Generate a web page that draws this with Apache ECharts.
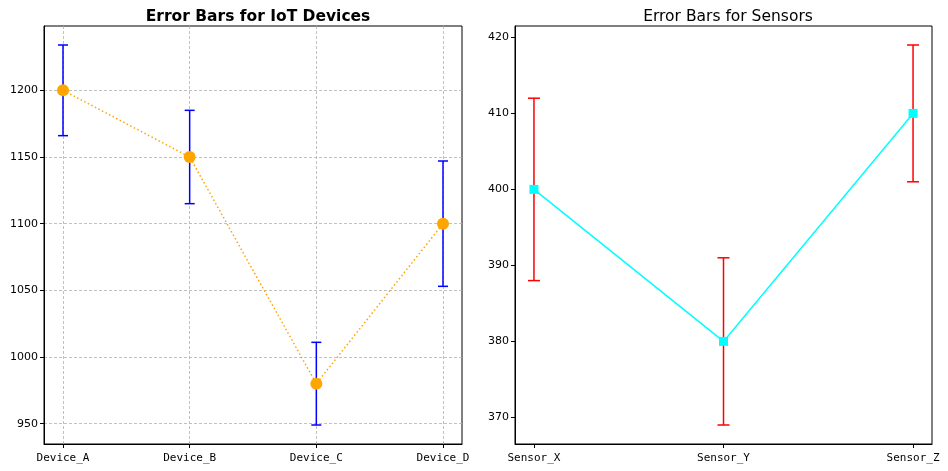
<!DOCTYPE html>
<html>
<head>
<meta charset="utf-8">
<script src="https://cdn.jsdelivr.net/npm/echarts@6/dist/echarts.min.js"></script>
<style>
  html, body { margin: 0; padding: 0; background: #fff; }
  #chart { width: 948px; height: 471px; }
</style>
</head>
<body>
<div id="chart"></div>
<script>
// left panel data
var devices = ['Device_A', 'Device_B', 'Device_C', 'Device_D'];
var deviceValues = [1200, 1150, 980, 1100];
var deviceErrors = [34, 35, 31, 47];
var deviceTicks = [950, 1000, 1050, 1100, 1150, 1200];

// right panel data
var sensors = ['Sensor_X', 'Sensor_Y', 'Sensor_Z'];
var sensorValues = [400, 380, 410];
var sensorErrors = [12, 11, 9];
var sensorTicks = [370, 380, 390, 400, 410, 420];

function pts(values) {
    var out = [];
    for (var i = 0; i < values.length; i++) out.push([i, values[i]]);
    return out;
}
function bars(values, errors) {
    var out = [];
    for (var i = 0; i < values.length; i++) out.push([i, values[i] - errors[i], values[i] + errors[i]]);
    return out;
}
// y limits like matplotlib: data span + 5% each side
function limits(values, errors) {
    var lo = Infinity, hi = -Infinity;
    for (var i = 0; i < values.length; i++) {
        lo = Math.min(lo, values[i] - errors[i]);
        hi = Math.max(hi, values[i] + errors[i]);
    }
    var m = (hi - lo) * 0.05;
    return [lo - m, hi + m];
}
function errorBar(capHalf, color) {
    return function (params, api) {
        var x = api.value(0);
        var top = api.coord([x, api.value(2)]);
        var bot = api.coord([x, api.value(1)]);
        var st = { stroke: color, lineWidth: 1.5 };
        return {
            type: 'group',
            children: [
                { type: 'line', shape: { x1: top[0], y1: top[1], x2: bot[0], y2: bot[1] }, style: st },
                { type: 'line', shape: { x1: top[0] - capHalf, y1: top[1], x2: top[0] + capHalf, y2: top[1] }, style: st },
                { type: 'line', shape: { x1: bot[0] - capHalf, y1: bot[1], x2: bot[0] + capHalf, y2: bot[1] }, style: st }
            ]
        };
    };
}

function plain(v) { return String(v); }
var tickLabel = { color: '#000', fontFamily: 'DejaVu Sans', fontSize: 11, margin: 6, formatter: plain };
var monoLabel = { color: '#000', fontFamily: 'DejaVu Sans Mono', fontSize: 11, margin: 9 };
var axisLine = { show: true, onZero: false, lineStyle: { color: '#000', width: 1 } };
var gridLine = { show: true, lineStyle: { color: '#b0b0b0', type: [3, 2], width: 0.8 } };

function ticks(vals) {
    return { show: true, inside: false, length: 4, customValues: vals, lineStyle: { color: '#000', width: 1 } };
}

var leftLim = limits(deviceValues, deviceErrors);
var rightLim = limits(sensorValues, sensorErrors);

var myChart = echarts.init(document.getElementById('chart'));
var option = {
    animation: false,
    title: [
        { text: 'Error Bars for IoT Devices', left: 253, top: 4, textAlign: 'center',
          textStyle: { fontFamily: 'DejaVu Sans', fontSize: 15.5, fontWeight: 'bold', color: '#000' } },
        { text: 'Error Bars for Sensors', left: 723, top: 4, textAlign: 'center',
          textStyle: { fontFamily: 'DejaVu Sans', fontSize: 15.5, fontWeight: 'normal', color: '#000' } }
    ],
    grid: [
        { left: 44, right: 486, top: 26, bottom: 27, show: true, borderColor: '#000', borderWidth: 1, backgroundColor: 'transparent' },
        { left: 515, right: 16, top: 26, bottom: 27, show: true, borderColor: '#000', borderWidth: 1, backgroundColor: 'transparent' }
    ],
    xAxis: [
        { type: 'value', gridIndex: 0, min: -0.15, max: devices.length - 1 + 0.15,
          axisLine: axisLine, axisTick: ticks([0, 1, 2, 3]),
          axisLabel: Object.assign({ customValues: [0, 1, 2, 3], formatter: function (v) { return devices[Math.round(v)]; } }, monoLabel),
          splitLine: gridLine },
        { type: 'value', gridIndex: 1, min: -0.1, max: sensors.length - 1 + 0.1,
          axisLine: axisLine, axisTick: ticks([0, 1, 2]),
          axisLabel: Object.assign({ customValues: [0, 1, 2], formatter: function (v) { return sensors[Math.round(v)]; } }, monoLabel),
          splitLine: { show: false } }
    ],
    yAxis: [
        { type: 'value', gridIndex: 0, min: leftLim[0], max: leftLim[1],
          axisLine: axisLine, axisTick: ticks(deviceTicks),
          axisLabel: Object.assign({ customValues: deviceTicks }, tickLabel),
          splitLine: gridLine },
        { type: 'value', gridIndex: 1, min: rightLim[0], max: rightLim[1],
          axisLine: axisLine, axisTick: ticks(sensorTicks),
          axisLabel: Object.assign({ customValues: sensorTicks }, tickLabel),
          splitLine: { show: false } }
    ],
    series: [
        { type: 'custom', xAxisIndex: 0, yAxisIndex: 0, z: 2,
          renderItem: errorBar(5, '#0000ff'), data: bars(deviceValues, deviceErrors) },
        { type: 'line', xAxisIndex: 0, yAxisIndex: 0, z: 3,
          data: pts(deviceValues), symbol: 'circle', symbolSize: 12,
          itemStyle: { color: '#ffa500' },
          lineStyle: { color: '#ffa500', width: 1.5, type: [1.5, 2.5] } },
        { type: 'custom', xAxisIndex: 1, yAxisIndex: 1, z: 2,
          renderItem: errorBar(6, '#ff0000'), data: bars(sensorValues, sensorErrors) },
        { type: 'line', xAxisIndex: 1, yAxisIndex: 1, z: 3,
          data: pts(sensorValues), symbol: 'rect', symbolSize: 9,
          itemStyle: { color: '#00ffff' },
          lineStyle: { color: '#00ffff', width: 1.5 } }
    ]
};
myChart.setOption(option);
</script>
</body>
</html>
